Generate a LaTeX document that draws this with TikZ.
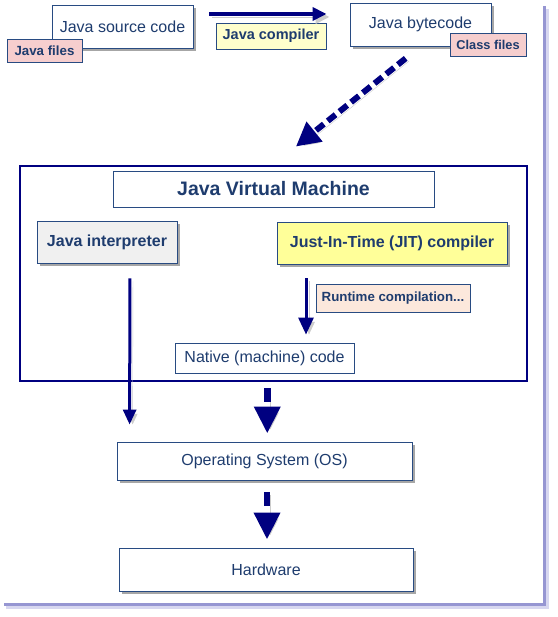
\documentclass[tikz,border=0pt]{standalone}
\usepackage{fontspec}
\setmainfont{Liberation Sans}
\usetikzlibrary{arrows.meta,shadows}
\definecolor{txtblue}{RGB}{30,60,110}
\definecolor{edgeblue}{RGB}{40,75,130}
\definecolor{navyarrow}{RGB}{0,0,128}
\definecolor{tagpink}{RGB}{246,206,206}
\definecolor{notecream}{RGB}{255,255,204}
\definecolor{jityellow}{RGB}{255,255,153}
\definecolor{interpgray}{RGB}{240,240,240}
\definecolor{runpeach}{RGB}{252,232,220}
\definecolor{pageshade}{RGB}{150,150,210}
\definecolor{pagefade}{RGB}{215,215,240}

\begin{document}
\begin{tikzpicture}[x=1pt,y=-1pt,
  box/.style={draw=edgeblue, line width=0.9pt, fill=white, text=txtblue, inner sep=0pt, font=\fontsize{16}{19}\selectfont},
  shbox/.style={box, drop shadow={shadow xshift=3pt, shadow yshift=-3pt, opacity=0.35, fill=black}},
  tag/.style={box, fill=tagpink, font=\fontsize{13.3}{16}\selectfont\bfseries},
  flow/.style={draw=navyarrow, line width=3pt, -{Triangle[length=15pt,width=13pt]},
    preaction={draw=black!20, transform canvas={shift={(3pt,-3pt)}}}},
  bigflow/.style={flow, line width=6.5pt, -{Triangle[length=27pt,width=25pt]}, dash pattern=on 14pt off 7pt}
]
\useasboundingbox (0,0) rectangle (557,617);
\fill[pagefade] (6,9) rectangle (549,609);
\fill[pageshade] (4,6) rectangle (546,606);
\fill[white] (0,0) rectangle (543,603);

\node[shbox, minimum width=141pt, minimum height=43pt] (src) at (122.5,26.5) {Java source code};
\node[tag, minimum width=75pt, minimum height=23pt] (javafiles) at (44.5,50.5) {Java files};
\node[shbox, minimum width=141pt, minimum height=43pt] (bytecode) at (420.5,24.5) {Java bytecode};
\node[tag, minimum width=76pt, minimum height=23pt, font=\fontsize{12.8}{15}\selectfont\bfseries] (classfiles) at (488,44.5) {Class files};
\node[box, fill=notecream, minimum width=110pt, minimum height=26pt, font=\fontsize{14.5}{17}\selectfont\bfseries] (jcompiler) at (271,36) {Java compiler};

\node[draw=navyarrow, line width=2.5pt, minimum width=507pt, minimum height=215pt] (jvm) at (273.25,273.5) {};
\node[box, minimum width=321pt, minimum height=36pt, font=\fontsize{19.5}{23}\selectfont\bfseries] (jvmtitle) at (273.5,189) {Java Virtual Machine};
\node[shbox, fill=interpgray, minimum width=140pt, minimum height=42pt, font=\fontsize{16}{19}\selectfont\bfseries] (interp) at (107,242) {Java interpreter};
\node[shbox, fill=jityellow, minimum width=230pt, minimum height=42pt, font=\fontsize{16}{19}\selectfont\bfseries] (jit) at (392,243) {Just-In-Time (JIT) compiler};
\node[tag, fill=runpeach, minimum width=154pt, minimum height=28pt] (runtime) at (393,298) {Runtime compilation...};
\node[box, minimum width=179pt, minimum height=30pt] (native) at (264.5,358) {Native (machine) code};

\node[shbox, minimum width=295pt, minimum height=38pt] (os) at (264.5,461) {Operating System (OS)};
\node[shbox, minimum width=294pt, minimum height=43pt] (hw) at (266,569.5) {Hardware};

\draw[flow, line width=4pt, -{Triangle[length=14pt,width=13pt]}, shorten <=16pt, shorten >=23pt]
  ([yshift=12.5pt]src.east) -- ([yshift=10.5pt]bytecode.west);
\draw[bigflow, line width=6pt, -{Triangle[length=24pt,width=24pt]}, dash pattern=on 10pt off 5pt, shorten <=19pt, shorten >=29pt]
  (bytecode.south) -- (jvm.north);
\draw[flow, shorten <=15pt, shorten >=17pt] ([xshift=23pt]interp.south) -- ([xshift=13pt]os.north west);
\draw[flow, -{Triangle[length=17pt,width=15pt]}, shorten <=14pt, shorten >=8pt] ([xshift=-86pt]jit.south) -- ([xshift=41.5pt]native.north);
\draw[bigflow, shorten <=6pt, shorten >=8pt] ([xshift=-6pt]jvm.south) -- ([xshift=2.75pt]os.north);
\draw[bigflow, shorten <=12pt, shorten >=8pt] ([xshift=2.5pt]os.south) -- ([xshift=1pt]hw.north);
\end{tikzpicture}
\end{document}
